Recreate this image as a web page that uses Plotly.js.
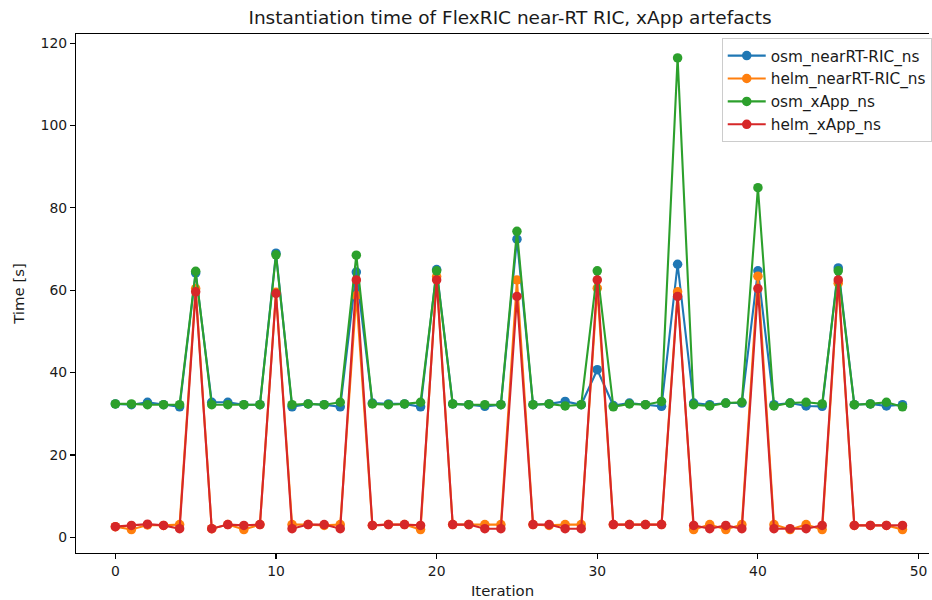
<!DOCTYPE html>
<html>
<head>
<meta charset="utf-8">
<script src="https://cdn.plot.ly/plotly-3.0.1.min.js"></script>
<style>
html, body { margin: 0; padding: 0; overflow: hidden; background: #ffffff; }
#chart { width: 932px; height: 600px; }
</style>
</head>
<body>
<div id="chart"></div>
<script>
const iterations = Array.from({length: 50}, (_, i) => i);

const seriesNames = ["osm_nearRT-RIC_ns", "helm_nearRT-RIC_ns", "osm_xApp_ns", "helm_xApp_ns"];
const seriesColors = ["#1f77b4", "#ff7f0e", "#2ca02c", "#d62728"];

const osmNearRT = [
  32.4, 32.2, 32.8, 32.2, 31.7, 64.2, 32.8, 32.8, 32.2, 32.2,
  69.0, 31.7, 32.4, 32.2, 31.7, 64.4, 32.6, 32.4, 32.4, 31.7,
  65.0, 32.4, 32.2, 31.8, 32.2, 72.4, 32.2, 32.4, 33.0, 32.2,
  40.7, 32.0, 32.6, 32.2, 31.8, 66.3, 32.6, 32.2, 32.6, 32.6,
  64.7, 32.2, 32.6, 31.9, 31.8, 65.4, 32.2, 32.4, 31.9, 32.2
];
const helmNearRT = [
  2.6, 1.9, 3.0, 2.9, 3.1, 60.4, 2.1, 3.1, 1.9, 3.1,
  59.5, 3.1, 3.1, 2.9, 3.1, 58.7, 2.9, 3.1, 3.1, 1.9,
  63.3, 3.1, 3.1, 3.1, 3.1, 62.5, 3.1, 2.9, 3.1, 3.1,
  60.5, 3.1, 3.1, 3.1, 3.1, 59.6, 1.9, 3.1, 1.9, 3.1,
  63.4, 3.1, 1.9, 3.1, 1.9, 61.7, 2.9, 2.9, 2.9, 1.9
];
const osmXApp = [
  32.4, 32.4, 32.2, 32.2, 32.2, 64.6, 32.2, 32.2, 32.2, 32.2,
  68.6, 32.2, 32.4, 32.2, 32.8, 68.5, 32.4, 32.2, 32.4, 32.8,
  64.7, 32.4, 32.2, 32.2, 32.2, 74.3, 32.2, 32.4, 31.9, 32.2,
  64.7, 31.7, 32.4, 32.2, 33.0, 116.4, 32.2, 31.9, 32.6, 32.8,
  84.9, 31.9, 32.6, 32.8, 32.4, 64.7, 32.2, 32.4, 32.8, 31.7
];
const helmXApp = [
  2.6, 2.9, 3.2, 2.9, 2.1, 59.6, 2.1, 3.1, 2.9, 3.1,
  59.2, 2.1, 3.1, 3.1, 2.1, 62.5, 2.9, 3.1, 3.1, 2.9,
  62.5, 3.1, 3.1, 2.1, 2.1, 58.5, 3.1, 3.1, 2.1, 2.1,
  62.5, 3.1, 3.1, 3.1, 3.1, 58.5, 2.9, 2.1, 2.9, 2.1,
  60.4, 2.1, 2.1, 2.1, 2.9, 62.5, 2.9, 2.9, 2.9, 2.9
];

const xTicks = [0, 10, 20, 30, 40, 50];
const yTicks = [0, 20, 40, 60, 80, 100, 120];

const allSeries = [osmNearRT, helmNearRT, osmXApp, helmXApp];
const FONT = "DejaVu Sans, sans-serif";
const TXT = "#1a1a1a";

const traces = allSeries.map((vals, i) => ({
  type: "scatter",
  mode: "lines+markers",
  x: iterations,
  y: vals,
  name: seriesNames[i],
  line: { color: seriesColors[i], width: 2.1 },
  marker: { color: seriesColors[i], size: 9.5 }
}));

const layout = {
  width: 932,
  height: 600,
  paper_bgcolor: "#ffffff",
  plot_bgcolor: "#ffffff",
  margin: { l: 76, r: 0, t: 34, b: 47 },
  font: { family: FONT, size: 13.9, color: TXT },
  title: {
    text: "Instantiation time of FlexRIC near-RT RIC, xApp artefacts",
    font: { family: FONT, size: 18.5, color: TXT },
    x: 510 / 932, xref: "container", xanchor: "center",
    y: 0.971, yref: "container", yanchor: "middle"
  },
  xaxis: {
    range: [-2.45, 50.65],
    tickvals: xTicks,
    ticktext: xTicks.map(String),
    ticks: "outside", ticklen: 5, tickwidth: 1.1, tickcolor: "#000000",
    showline: true, linecolor: "#000000", linewidth: 1.1, mirror: true,
    showgrid: false, zeroline: false,
    tickfont: { family: FONT, size: 13.9, color: TXT },
    title: { text: "Iteration", font: { family: FONT, size: 14.9, color: TXT }, standoff: 9 }
  },
  yaxis: {
    range: [-3.8, 122.2],
    tickvals: yTicks,
    ticktext: yTicks.map(String),
    ticks: "outside", ticklen: 5, tickwidth: 1.1, tickcolor: "#000000",
    showline: true, linecolor: "#000000", linewidth: 1.1, mirror: false,
    showgrid: false, zeroline: false,
    tickfont: { family: FONT, size: 13.9, color: TXT },
    title: { text: "Time [s]", font: { family: FONT, size: 14.9, color: TXT }, standoff: 12 }
  },
  showlegend: true,
  legend: {
    x: (724 - 76) / 856, y: 0.992, xanchor: "left", yanchor: "top",
    bgcolor: "rgba(255,255,255,0.8)",
    bordercolor: "#cccccc", borderwidth: 1,
    itemwidth: 38,
    font: { family: FONT, size: 15.3, color: TXT }
  }
};

Plotly.newPlot("chart", traces, layout, { displayModeBar: false, staticPlot: true });
</script>
</body>
</html>
